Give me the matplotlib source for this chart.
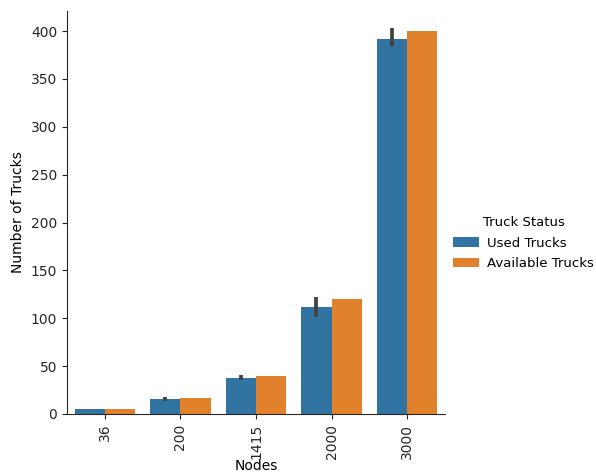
import matplotlib
matplotlib.use("Agg")
import matplotlib.pyplot as plt
import numpy as np
from matplotlib.patches import Patch

# Truck counts per node size
nodes = ["36", "200", "1415", "2000", "3000"]
used_trucks = [5, 16, 38, 112, 392]
used_ci_low = [5, 14, 36, 101, 384]
used_ci_high = [5, 18, 41, 122, 403]
available_trucks = [5, 17, 40, 120, 400]

series_names = ["Used Trucks", "Available Trucks"]
colors = ["#3274a1", "#e1812c"]

fig = plt.figure(figsize=(5.96, 4.74), dpi=100)
ax = fig.add_axes([0.1124, 0.1266, 0.6342, 0.8502])

x = np.arange(len(nodes))
w = 0.4
ax.bar(x - w / 2, used_trucks, width=w, color=colors[0], edgecolor="none")
ax.bar(x + w / 2, available_trucks, width=w, color=colors[1], edgecolor="none")

# confidence intervals for used trucks
for xi, lo, hi in zip(x - w / 2, used_ci_low, used_ci_high):
    if hi > lo:
        ax.plot([xi, xi], [lo, hi], color="#424242", lw=2.7, solid_capstyle="butt")

ax.set_xlim(-0.5, len(nodes) - 0.5)
ax.set_ylim(0, 421)
ax.set_xticks(x)
ax.set_xticklabels(nodes, rotation=90)
ax.set_yticks(np.arange(0, 401, 50))
ax.set_xlabel("Nodes", fontsize=10, labelpad=0)
ax.set_ylabel("Number of Trucks", fontsize=10)
ax.tick_params(labelsize=10, color="#262626", labelcolor="#262626")
for s in ["top", "right"]:
    ax.spines[s].set_visible(False)
for s in ["left", "bottom"]:
    ax.spines[s].set_color("#262626")

handles = [Patch(facecolor=c, edgecolor="none") for c in colors]
fig.legend(handles, series_names, title="Truck Status", frameon=False,
           loc="center left", bbox_to_anchor=(0.74, 0.487), fontsize=9.5,
           title_fontsize=9.5, handlelength=2.0, handleheight=0.7,
           handletextpad=0.6, labelspacing=0.55)

fig.savefig("out.png", dpi=100)
